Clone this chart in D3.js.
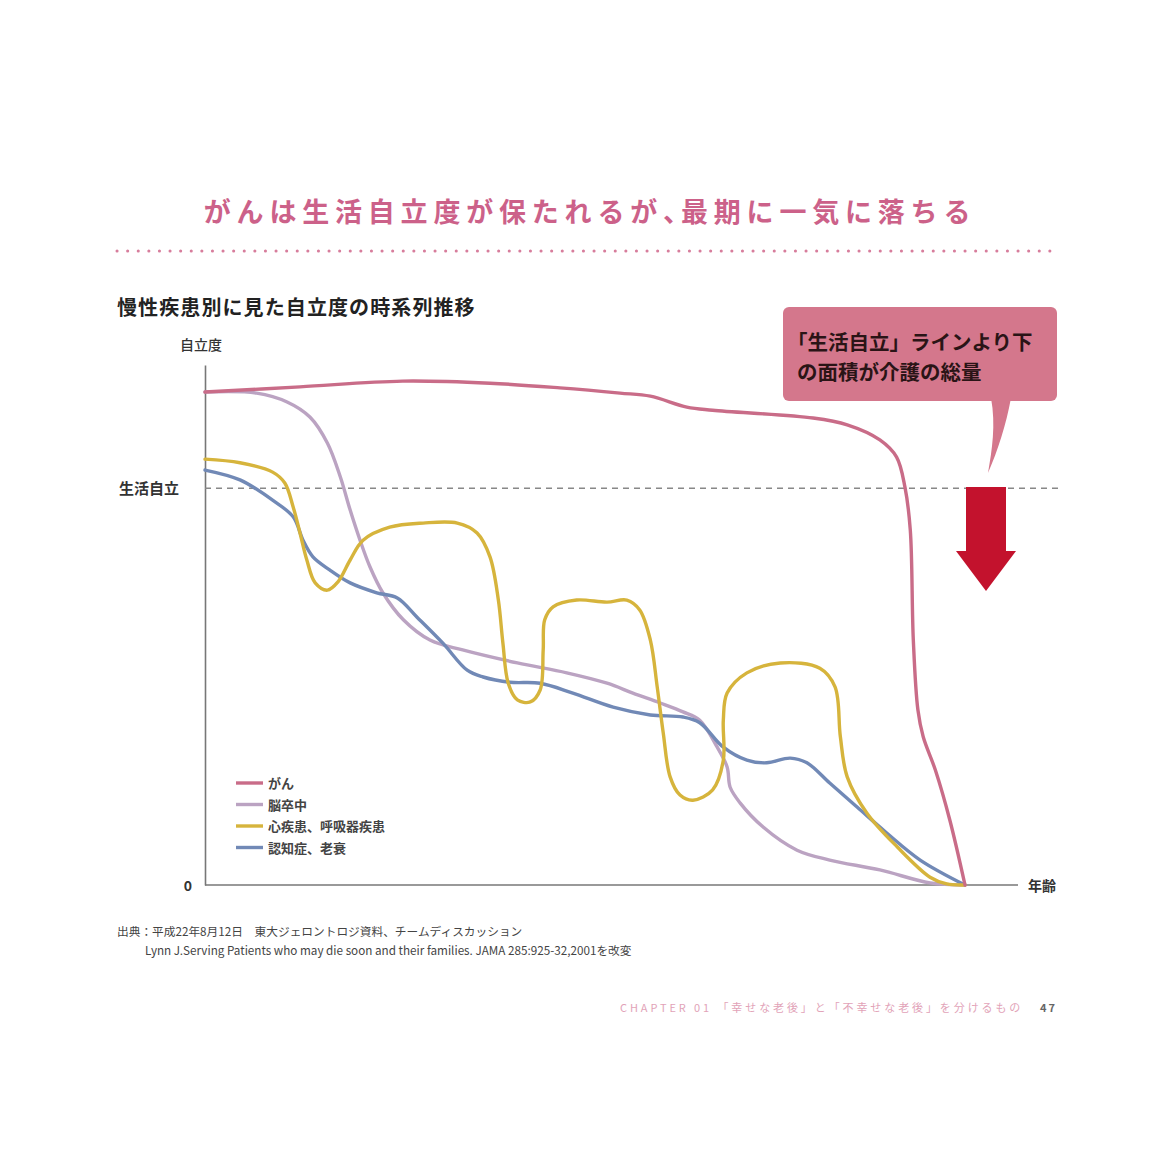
<!DOCTYPE html>
<html>
<head>
<meta charset="utf-8">
<script src="https://cdn.jsdelivr.net/npm/d3@7"></script>
<style>
  html, body { margin: 0; padding: 0; background: #fff; }
  svg { display: block; }
  text { font-family: "Noto Sans CJK JP", "Noto Sans", sans-serif; }
</style>
</head>
<body>
<svg id="chart" width="1150" height="1150"></svg>
<script>
// x: 0 = start of observation, 100 = death; y: 0..100 independence level
var seriesNames = ["がん", "脳卒中", "心疾患、呼吸器疾患", "認知症、老衰"];
var seriesColors = ["#c96c88", "#bba3c2", "#d6b43c", "#7189b6"];

var cancer = [[0,94.8],[12.5,95.8],[26,96.9],[37.5,96.5],[46.7,95.6],[54.6,94.6],[58.6,94.0],
  [63.4,91.9],[66.8,91.3],[80,89.8],[84.5,88.5],[88.8,85.6],[91,82.3],[92.1,76.5],[92.8,68.3],
  [93.2,47.1],[93.8,33.7],[94.5,28.5],[96.1,22.1],[98,12.5],[100,0]];

var stroke = [[0,94.8],[6.8,94.6],[10.8,92.9],[13.8,90.0],[16.1,85.0],[17.8,78.5],[19.1,72.1],
  [20.4,66.3],[21.7,61.2],[23.4,56.2],[26.1,51.0],[29.6,47.1],[33.9,45.2],[41.1,42.7],[47.6,40.8],
  [52.9,38.8],[56.3,36.9],[59.9,35.0],[62.9,33.3],[65.1,31.7],[67.4,26.5],[68.7,22.7],[69.1,18.8],
  [70.4,15.8],[73.4,11.2],[77.9,6.7],[82.2,4.8],[88.8,2.9],[95.4,0.4],[100,0]];

var heart = [[0,81.9],[4.6,81.2],[8.9,79.4],[10.5,77.3],[11.6,72.7],[12.5,67.7],[13.4,62.5],
  [14.5,58.1],[16.1,56.7],[17.5,58.3],[19.1,62.5],[20.8,66.3],[24.3,68.8],[28.7,69.6],[33.2,69.6],
  [35.8,67.7],[37.5,63.1],[38.6,54.8],[39.2,46.5],[39.9,38.8],[41.1,35.6],[42.8,35.2],[44.1,37.5],
  [44.5,45.2],[44.7,51.0],[45.8,53.5],[48.9,54.8],[52.9,54.4],[55.5,54.8],[57.2,52.9],[58.6,47.1],
  [59.5,38.1],[60.3,29.2],[61.2,20.8],[62.5,17.3],[64.2,16.3],[66.8,18.3],[68.2,24.0],[68.2,31.7],
  [68.7,36.9],[71.3,40.8],[75.7,42.7],[80.9,41.7],[82.9,38.1],[83.6,28.5],[84.5,20.8],[87.1,13.8],
  [91.1,7.3],[95.4,1.5],[97.6,0.2],[100,0]];

var dementia = [[0,79.8],[4.6,77.9],[8.9,74.0],[11.6,70.8],[12.9,66.3],[14.2,63.1],[16.4,60.6],
  [19.1,58.1],[22.6,56.2],[25.3,55.2],[27.9,51.5],[31.3,46.5],[34.5,41.3],[36.6,40.0],[40.1,39.0],
  [44.1,38.8],[48.4,36.9],[53.7,34.2],[58.6,32.7],[62.9,32.3],[65.1,31.2],[68.2,26.5],[71.3,24.0],
  [73.9,23.5],[77.0,24.4],[79.2,23.5],[82.2,19.6],[85.8,15.0],[89.7,10.0],[94.1,4.8],[100,0]];

var independentLevel = 76.3;

var titleParts = ["がんは生活自立度が保たれるが", "、", "最期に一気に落ちる"];
var subtitle = "慢性疾患別に見た自立度の時系列推移";
var calloutLines = ["「生活自立」ラインより下", "の面積が介護の総量"];
var sourceLines = ["出典：平成22年8月12日　東大ジェロントロジ資料、チームディスカッション",
  "Lynn J.Serving Patients who may die soon and their families. JAMA 285:925-32,2001を改変"];

var svg = d3.select("#chart");

var x = d3.scaleLinear().domain([0, 100]).range([205, 965]);
var y = d3.scaleLinear().domain([0, 100]).range([885, 365]);

// title + dotted rule
var titleText = svg.append("text")
  .attr("x", 590).attr("y", 222)
  .attr("text-anchor", "middle")
  .attr("font-size", 27).attr("font-weight", 700)
  .attr("letter-spacing", 5.8)
  .attr("fill", "#cc6189");
titleParts.forEach(function(t, i) {
  titleText.append("tspan")
    .attr("letter-spacing", i === 1 ? -9 : 5.8)
    .text(t);
});

svg.append("line")
  .attr("x1", 117).attr("x2", 1052).attr("y1", 251).attr("y2", 251)
  .attr("stroke", "#d77d9c").attr("stroke-width", 3)
  .attr("stroke-linecap", "round")
  .attr("stroke-dasharray", "0.1,10.5");

svg.append("text")
  .attr("x", 117).attr("y", 315)
  .attr("font-size", 20).attr("font-weight", 700)
  .attr("letter-spacing", 1.1)
  .attr("fill", "#222")
  .text(subtitle);

// axes
svg.append("g")
  .attr("transform", "translate(0,885)")
  .call(d3.axisBottom(x).ticks(0).tickSize(0).tickSizeOuter(0))
  .call(function(g) {
    g.select(".domain").attr("d", "M205,0H1018").attr("stroke", "#777").attr("stroke-width", 1.6);
  });

svg.append("g")
  .attr("transform", "translate(205,0)")
  .call(d3.axisLeft(y).ticks(0).tickSize(0).tickSizeOuter(0))
  .call(function(g) {
    g.select(".domain").attr("stroke", "#777").attr("stroke-width", 1.6);
  });

svg.append("text").attr("x", 180).attr("y", 350)
  .attr("font-size", 14).attr("font-weight", 500).attr("fill", "#333")
  .text("自立度");
svg.append("text").attr("x", 192).attr("y", 891)
  .attr("text-anchor", "end")
  .attr("font-size", 14).attr("font-weight", 700).attr("fill", "#333")
  .text("0");
svg.append("text").attr("x", 1028).attr("y", 891)
  .attr("font-size", 14).attr("font-weight", 700).attr("fill", "#333")
  .text("年齢");
svg.append("text").attr("x", 119).attr("y", y(independentLevel) + 6)
  .attr("font-size", 15).attr("font-weight", 700).attr("fill", "#333")
  .text("生活自立");

// independence line
svg.append("line")
  .attr("x1", x(0)).attr("x2", 1058)
  .attr("y1", y(independentLevel)).attr("y2", y(independentLevel))
  .attr("stroke", "#888").attr("stroke-width", 1.5)
  .attr("stroke-dasharray", "6,5");

// curves
var line = d3.line()
  .x(function(d) { return x(d[0]); })
  .y(function(d) { return y(d[1]); })
  .curve(d3.curveCatmullRom.alpha(0.5));

var series = [cancer, stroke, heart, dementia];
[1, 3, 2, 0].forEach(function(i) {
  svg.append("path")
    .datum(series[i])
    .attr("d", line)
    .attr("fill", "none")
    .attr("stroke", seriesColors[i])
    .attr("stroke-width", 3.4)
    .attr("stroke-linejoin", "round")
    .attr("stroke-linecap", "round");
});

// legend
var legend = svg.append("g").attr("transform", "translate(236,783)");
seriesNames.forEach(function(name, i) {
  var row = legend.append("g").attr("transform", "translate(0," + (i * 21.5) + ")");
  row.append("line").attr("x1", 0).attr("x2", 27).attr("y1", 0).attr("y2", 0)
    .attr("stroke", seriesColors[i]).attr("stroke-width", 3.4);
  row.append("text").attr("x", 32).attr("y", 5)
    .attr("font-size", 13).attr("font-weight", 700).attr("fill", "#444")
    .text(name);
});

// callout
svg.append("path")
  .attr("d", "M991,398 C996,425 992,450 988,473 C998,450 1006,425 1011,398 Z")
  .attr("fill", "#d4778c");
svg.append("rect")
  .attr("x", 783).attr("y", 307).attr("width", 274).attr("height", 94).attr("rx", 6)
  .attr("fill", "#d4778c");
calloutLines.forEach(function(t, i) {
  svg.append("text")
    .attr("x", i === 0 ? 787 : 797).attr("y", 350 + i * 30)
    .attr("font-size", 20.5).attr("font-weight", 700).attr("fill", "#2a1416")
    .text(t);
});

// red arrow
svg.append("path")
  .attr("d", "M966,487 H1006 V551 H1016 L986,591 L956,551 H966 Z")
  .attr("fill", "#c3122d");

// source
sourceLines.forEach(function(t, i) {
  svg.append("text")
    .attr("x", i === 0 ? 117 : 145).attr("y", 936 + i * 19)
    .attr("font-size", 11.7).attr("fill", "#444")
    .text(t);
});

// footer
svg.append("text")
  .attr("x", 620).attr("y", 1012)
  .attr("font-size", 11).attr("letter-spacing", 2.9).attr("fill", "#e2a3b8")
  .text("CHAPTER 01 「幸せな老後」と「不幸せな老後」を分けるもの");
svg.append("text")
  .attr("x", 1040).attr("y", 1012)
  .attr("font-size", 11).attr("font-weight", 700).attr("letter-spacing", 2).attr("fill", "#666")
  .text("47");
</script>
</body>
</html>
